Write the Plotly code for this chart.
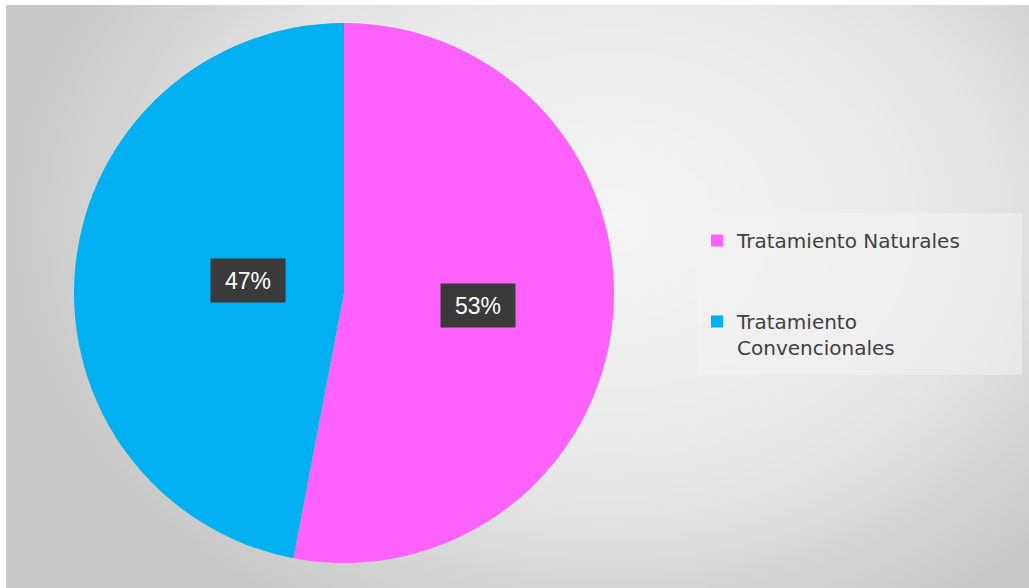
import math
import numpy as np
import plotly.graph_objects as go

# ---- data ----
labels = ["Tratamiento Naturales", "Tratamiento Convencionales"]
legend_names = ["Tratamiento Naturales<br> <br> ", "Tratamiento<br>Convencionales"]
values = [53, 47]
colors = ["#FF61FF", "#00B0F0"]

W, H = 1029, 588
CX, CY, R = 344, 293, 270  # pie centre / radius in px

fig = go.Figure()

# ---- decorative radial gray background (styling only) ----
gx = np.linspace(0, W, 60)
gy = np.linspace(0, H, 40)
XX, YY = np.meshgrid(gx, gy)
rr = np.sqrt(((XX - 610) / 600) ** 2 + ((YY - 220) / 450) ** 2)
rr = np.clip(rr, 0, 1)
fig.add_trace(go.Heatmap(
    x=gx, y=gy, z=rr, zmin=0, zmax=1, zsmooth="best", showscale=False,
    hoverinfo="skip",
    colorscale=[[0, "#F4F4F4"], [0.5, "#EAEAEA"], [0.65, "#E3E3E3"],
                [0.85, "#D3D3D3"], [1, "#C8C8C8"]],
    xaxis="x", yaxis="y", showlegend=False,
))

# ---- pie ----
fig.add_trace(go.Pie(
    labels=legend_names, values=values, sort=False, direction="clockwise",
    rotation=0, textinfo="none", hoverinfo="label+percent",
    marker=dict(colors=colors, line=dict(width=0)),
    domain=dict(x=[(CX - R) / W, (CX + R) / W], y=[1 - (CY + R) / H, 1 - (CY - R) / H]),
))

# ---- percentage labels with dark boxes, placed from the values ----
total = sum(values)
cum = 0
annotations = []
for v in values:
    mid = (cum + v / 2) / total
    cum += v
    th = 2 * math.pi * mid
    px = CX + 0.5 * R * math.sin(th)
    py = CY - 0.5 * R * math.cos(th)
    annotations.append(dict(
        x=px / W, y=1 - py / H, xref="paper", yref="paper",
        text=f"{round(100 * v / total)}%", showarrow=False,
        font=dict(family="Liberation Sans", size=23, color="white"),
        bgcolor="#3A3A3A", borderpad=8, width=58, height=27,
    ))

shapes = [
    # legend panel
    dict(type="rect", xref="paper", yref="paper", layer="above",
         x0=697 / W, x1=1022 / W, y0=1 - 375 / H, y1=1 - 213 / H,
         fillcolor="rgba(242,242,242,0.55)", line=dict(width=0)),
    # white frame strips
    dict(type="rect", xref="paper", yref="paper", layer="above",
         x0=0, x1=1, y0=1 - 5 / H, y1=1, fillcolor="white", line=dict(width=0)),
    dict(type="rect", xref="paper", yref="paper", layer="above",
         x0=0, x1=6 / W, y0=0, y1=1, fillcolor="white", line=dict(width=0)),
]

fig.update_layout(
    width=W, height=H,
    margin=dict(l=0, r=0, t=0, b=0),
    paper_bgcolor="white", plot_bgcolor="white",
    xaxis=dict(range=[0, W], visible=False, fixedrange=True, domain=[0, 1]),
    yaxis=dict(range=[H, 0], visible=False, fixedrange=True, domain=[0, 1]),
    showlegend=True,
    legend=dict(
        x=697 / W, y=1 - 221 / H, xanchor="left", yanchor="top",
        bgcolor="rgba(0,0,0,0)", valign="top",
        font=dict(family="DejaVu Sans", size=20, color="#404040"),
    ),
    annotations=annotations,
    shapes=shapes,
)

fig.write_html("out.html", config={"displayModeBar": False},
               post_script="document.body.style.margin='0';document.body.style.overflow='hidden';")
